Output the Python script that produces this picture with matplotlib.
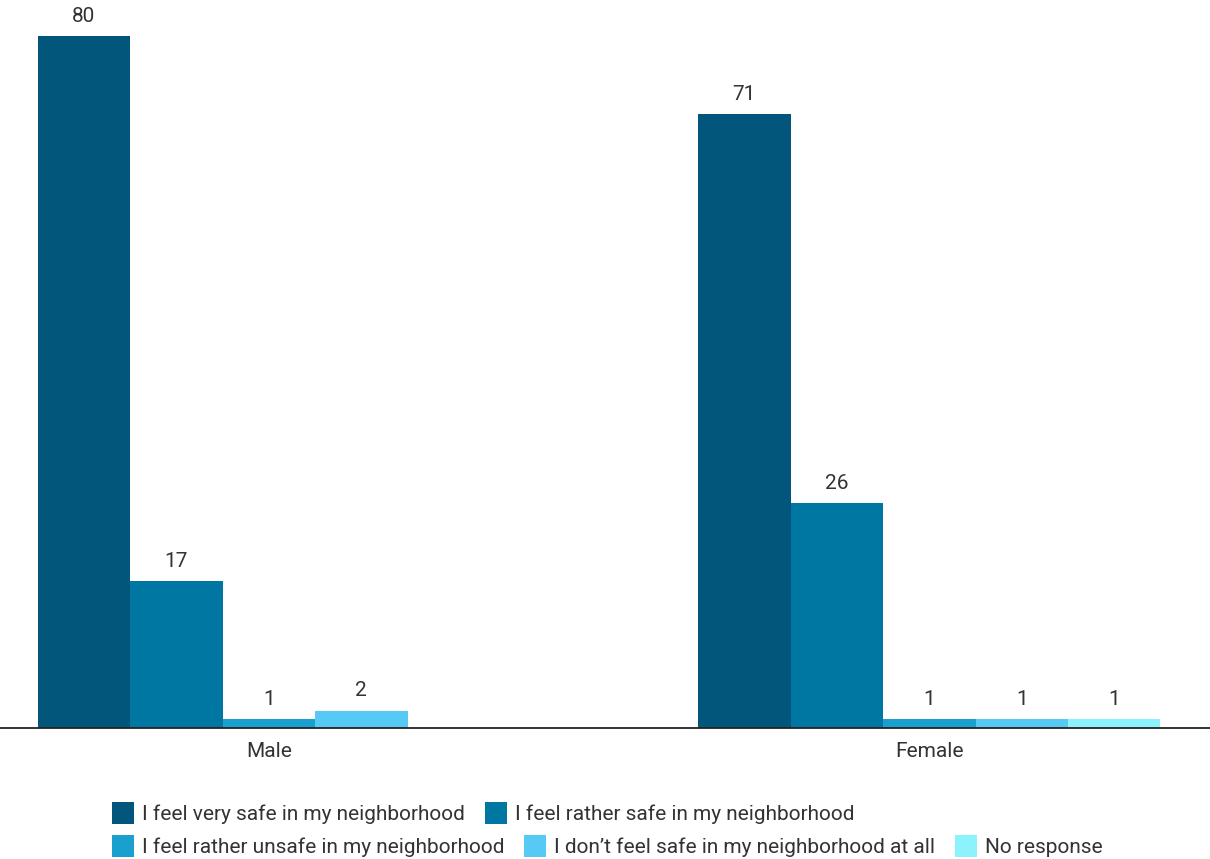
import numpy as np
import matplotlib.pyplot as plt

plt.rcParams['font.family'] = ['Roboto', 'DejaVu Sans']

# datos
grupos = ['Male', 'Female']
respuestas = ['I feel very safe in my neighborhood',
              'I feel rather safe in my neighborhood',
              'I feel rather unsafe in my neighborhood',
              'I don\u2019t feel safe in my neighborhood at all',
              'No response']
muy_seguro = [80, 71]
algo_seguro = [17, 26]
algo_inseguro = [1, 1]
nada_seguro = [2, 1]
sin_respuesta = [np.nan, 1]
colores = ['#03567b', '#0077a3', '#1aa0cf', '#56c9f5', '#8cf2fc']

series = [muy_seguro, algo_seguro, algo_inseguro, nada_seguro, sin_respuesta]

fig = plt.figure(figsize=(12.1, 8.59), dpi=100)
ax = fig.add_axes([0, 0.1525, 1, 0.8475])

x = np.arange(len(grupos))
ancho = 0.14
handles = []
for i, (vals, col) in enumerate(zip(series, colores)):
    pos = x + (i - 2) * ancho
    b = ax.bar(pos, vals, width=ancho, color=col, label=respuestas[i])
    handles.append(b)
    for p, v in zip(pos, vals):
        if not np.isnan(v):
            ax.text(p, v + 1.2, f'{v:g}', ha='center', va='bottom',
                    fontsize=15, color='#333333')

ax.set_xlim(-0.407, 1.425)
ax.set_ylim(0, 84.2)
ax.set_xticks(x)
ax.set_xticklabels(grupos, fontsize=15, color='#333333')
ax.tick_params(axis='x', length=0, pad=10)
ax.set_yticks([])
for s in ['top', 'right', 'left']:
    ax.spines[s].set_visible(False)
ax.spines['bottom'].set_color('#222222')
ax.spines['bottom'].set_linewidth(1.3)

# leyenda en dos filas
kw = dict(frameon=False, fontsize=15, handlelength=1.06, handleheight=1.25,
          handletextpad=0.38, columnspacing=0.95, borderpad=0, borderaxespad=0,
          labelcolor='#333333')
fig.legend(handles[:2], respuestas[:2], ncol=2, loc='upper left',
           bbox_to_anchor=(112 / 1210, 1 - 802 / 859), **kw)
fig.legend(handles[2:], respuestas[2:], ncol=3, loc='upper left',
           bbox_to_anchor=(112 / 1210, 1 - 835 / 859), **kw)

fig.savefig('out.png', dpi=100)
